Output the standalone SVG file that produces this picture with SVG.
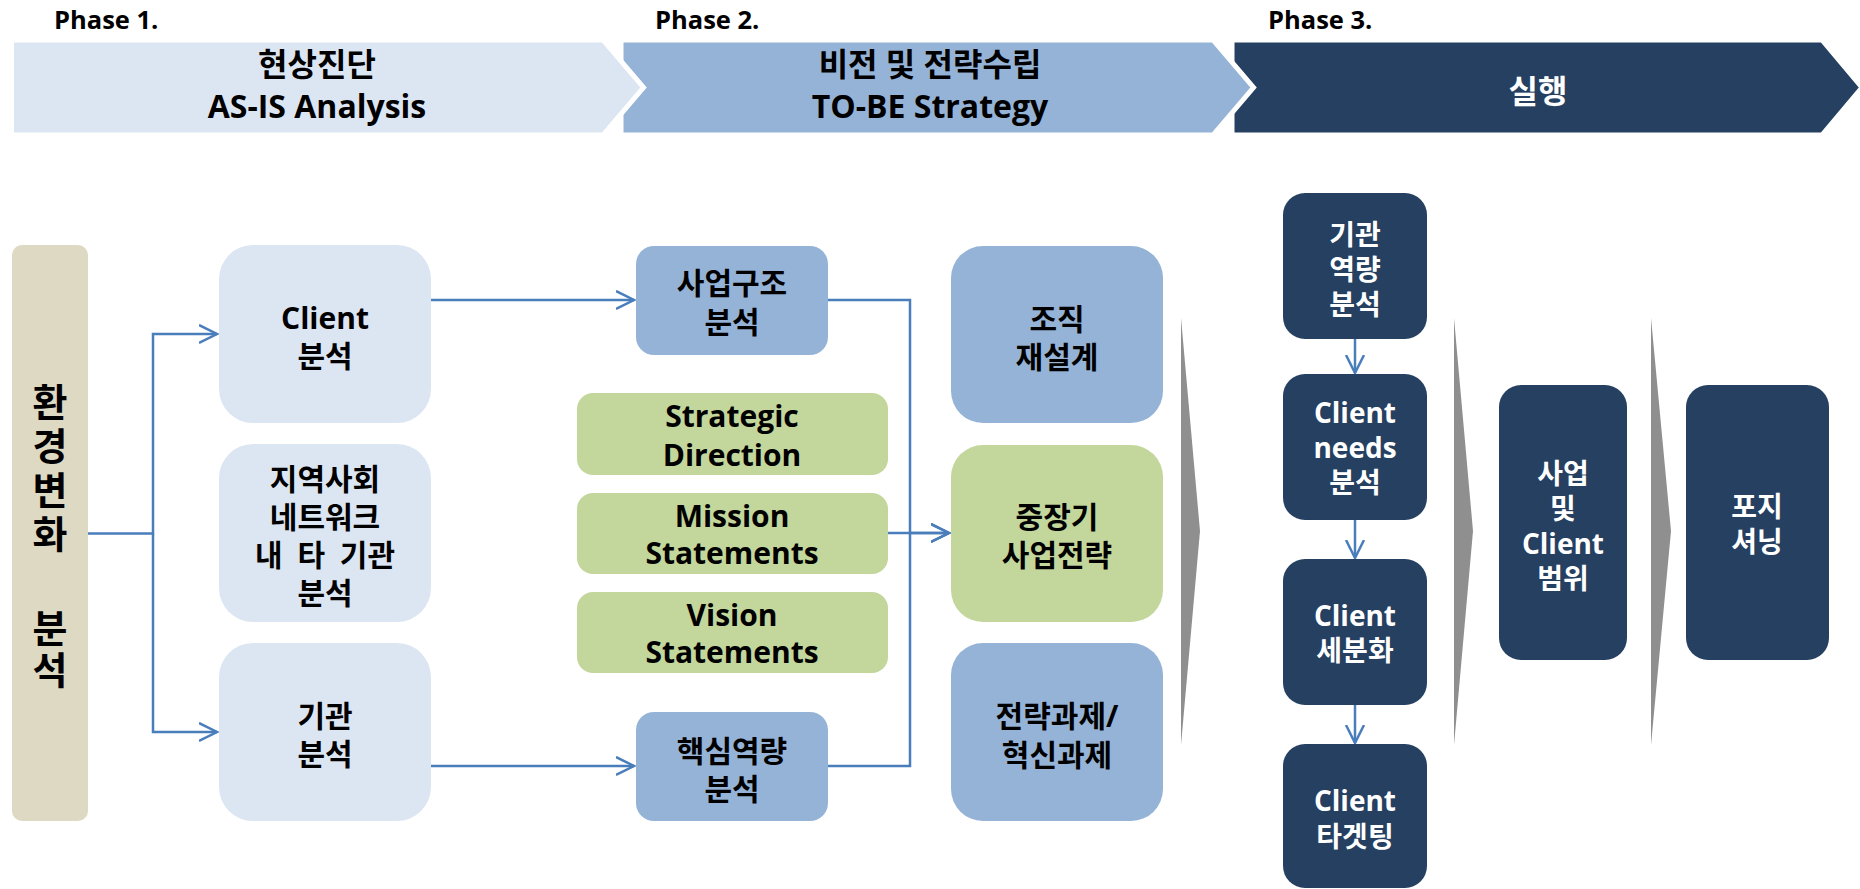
<svg xmlns="http://www.w3.org/2000/svg" width="1860" height="889" viewBox="0 0 1860 889">
<defs>
<style>
.t{font-family:"Open Sans","Noto Sans CJK KR",sans-serif;font-weight:700;text-anchor:middle;fill:#000}
.lbl{font-family:"Open Sans","Noto Sans CJK KR",sans-serif;font-weight:700;font-size:25.5px;fill:#000}
.v{font-family:"Noto Sans CJK KR",sans-serif;font-weight:700;font-size:38px;fill:#000;writing-mode:vertical-rl;text-orientation:upright;text-anchor:start}
.h{font-size:32px}
.b{font-size:30px}
.s{font-size:28px}
.w{fill:#fff}
.ph{stroke:#fff;stroke-width:5;stroke-linejoin:miter}
.lt{fill:#DCE6F2}
.md{fill:#95B3D7}
.gr{fill:#C3D69B}
.nv{fill:#254061}
.gy{fill:#8F8F8F}
.cn{fill:none;stroke:#4A7EBB;stroke-width:2.5}
</style>
<marker id="ah" markerUnits="userSpaceOnUse" markerWidth="22" markerHeight="22" refX="18" refY="10" orient="auto">
<path d="M0,1 L18,10 L0,19" fill="none" stroke="#4A7EBB" stroke-width="2.5"/>
</marker>
</defs>
<rect width="1860" height="889" fill="#fff"/>

<g id="phase3">
<path class="ph nv" d="M1232,40 H1822 L1862,87.5 L1822,135 H1232 Z"/>
<text class="lbl" x="1268" y="29">Phase 3.</text>
<text class="t h w" x="1538" y="103">실행</text>
</g>
<g id="phase2">
<path class="ph md" d="M621,40 H1213 L1253.5,87.5 L1213,135 H621 Z"/>
<text class="lbl" x="655" y="29">Phase 2.</text>
<text class="t h" x="930" y="76">비전 및 전략수립</text>
<text class="t h" x="930" y="118">TO-BE Strategy</text>
</g>
<g id="phase1">
<path class="ph lt" d="M11.5,40 H603 L643.5,87.5 L603,135 H11.5 Z"/>
<text class="lbl" x="54" y="29">Phase 1.</text>
<text class="t h" x="317" y="76">현상진단</text>
<text class="t h" x="317" y="118">AS-IS Analysis</text>
</g>

<g id="connectors">
<path class="cn" d="M88,533.5 H153 V334 H217" marker-end="url(#ah)"/>
<path class="cn" d="M153,533.5 V732 H217" marker-end="url(#ah)"/>
<path class="cn" d="M431,300 H634" marker-end="url(#ah)"/>
<path class="cn" d="M431,766 H634" marker-end="url(#ah)"/>
<path class="cn" d="M828,300 H910 V533 H949" marker-end="url(#ah)"/>
<path class="cn" d="M828,766 H910 V533"/>
<path class="cn" d="M888,533 H949" marker-end="url(#ah)"/>
<path class="cn" d="M1355,339 V373" marker-end="url(#ah)"/>
<path class="cn" d="M1355,520 V558" marker-end="url(#ah)"/>
<path class="cn" d="M1355,705 V743" marker-end="url(#ah)"/>
</g>

<g id="env">
<rect x="12" y="245" width="76" height="576" rx="10" fill="#DDD9C3"/>
<text class="v" x="50" y="383" style="letter-spacing:6px">환경변화</text>
<text class="v" x="50" y="609" style="letter-spacing:4px">분석</text>
</g>

<g id="n_client">
<rect class="lt" x="219" y="245" width="212" height="178" rx="34"/>
<text class="t b" x="325" y="329">Client</text>
<text class="t b" x="325" y="367">분석</text>
</g>
<g id="n_region">
<rect class="lt" x="219" y="444" width="212" height="178" rx="34"/>
<text class="t b" x="325" y="490">지역사회</text>
<text class="t b" x="325" y="528">네트워크</text>
<text class="t b" x="325" y="566" word-spacing="7">내 타 기관</text>
<text class="t b" x="325" y="604">분석</text>
</g>
<g id="n_org">
<rect class="lt" x="219" y="643" width="212" height="178" rx="34"/>
<text class="t b" x="325" y="727">기관</text>
<text class="t b" x="325" y="765">분석</text>
</g>

<g id="n_bizstruct">
<rect class="md" x="636" y="246" width="192" height="109" rx="18"/>
<text class="t b" x="732" y="294">사업구조</text>
<text class="t b" x="732" y="333">분석</text>
</g>
<g id="n_strategic">
<rect class="gr" x="577" y="393" width="311" height="82" rx="16"/>
<text class="t b" x="732" y="427">Strategic</text>
<text class="t b" x="732" y="466">Direction</text>
</g>
<g id="n_mission">
<rect class="gr" x="577" y="493" width="311" height="81" rx="16"/>
<text class="t b" x="732" y="527">Mission</text>
<text class="t b" x="732" y="564">Statements</text>
</g>
<g id="n_vision">
<rect class="gr" x="577" y="592" width="311" height="81" rx="16"/>
<text class="t b" x="732" y="626">Vision</text>
<text class="t b" x="732" y="663">Statements</text>
</g>
<g id="n_core">
<rect class="md" x="636" y="712" width="192" height="109" rx="18"/>
<text class="t b" x="732" y="762">핵심역량</text>
<text class="t b" x="732" y="800">분석</text>
</g>

<g id="n_reorg">
<rect class="md" x="951" y="246" width="212" height="177" rx="32"/>
<text class="t b" x="1057" y="330">조직</text>
<text class="t b" x="1057" y="368">재설계</text>
</g>
<g id="n_midterm">
<rect class="gr" x="951" y="445" width="212" height="177" rx="32"/>
<text class="t b" x="1057" y="528">중장기</text>
<text class="t b" x="1057" y="566">사업전략</text>
</g>
<g id="n_tasks">
<rect class="md" x="951" y="643" width="212" height="178" rx="32"/>
<text class="t b" x="1057" y="727">전략과제/</text>
<text class="t b" x="1057" y="766">혁신과제</text>
</g>

<g id="chevrons">
<polygon class="gy" points="1181,318 1200,531 1181,745"/>
<polygon class="gy" points="1454,318 1473,531 1454,745"/>
<polygon class="gy" points="1651,318 1671,531 1651,745"/>
</g>

<g id="n_capacity">
<rect class="nv" x="1283" y="193" width="144" height="146" rx="22"/>
<text class="t s w" x="1355" y="245">기관</text>
<text class="t s w" x="1355" y="280">역량</text>
<text class="t s w" x="1355" y="315">분석</text>
</g>
<g id="n_needs">
<rect class="nv" x="1283" y="374" width="144" height="146" rx="22"/>
<text class="t s w" x="1355" y="423">Client</text>
<text class="t s w" x="1355" y="458">needs</text>
<text class="t s w" x="1355" y="493">분석</text>
</g>
<g id="n_segment">
<rect class="nv" x="1283" y="559" width="144" height="146" rx="22"/>
<text class="t s w" x="1355" y="626">Client</text>
<text class="t s w" x="1355" y="661">세분화</text>
</g>
<g id="n_target">
<rect class="nv" x="1283" y="744" width="144" height="144" rx="22"/>
<text class="t s w" x="1355" y="811">Client</text>
<text class="t s w" x="1355" y="847">타겟팅</text>
</g>
<g id="n_scope">
<rect class="nv" x="1499" y="385" width="128" height="275" rx="22"/>
<text class="t s w" x="1563" y="484">사업</text>
<text class="t s w" x="1563" y="519">및</text>
<text class="t s w" x="1563" y="554">Client</text>
<text class="t s w" x="1563" y="589">범위</text>
</g>
<g id="n_position">
<rect class="nv" x="1686" y="385" width="143" height="275" rx="22"/>
<text class="t s w" x="1757" y="517">포지</text>
<text class="t s w" x="1757" y="552">셔닝</text>
</g>
</svg>
